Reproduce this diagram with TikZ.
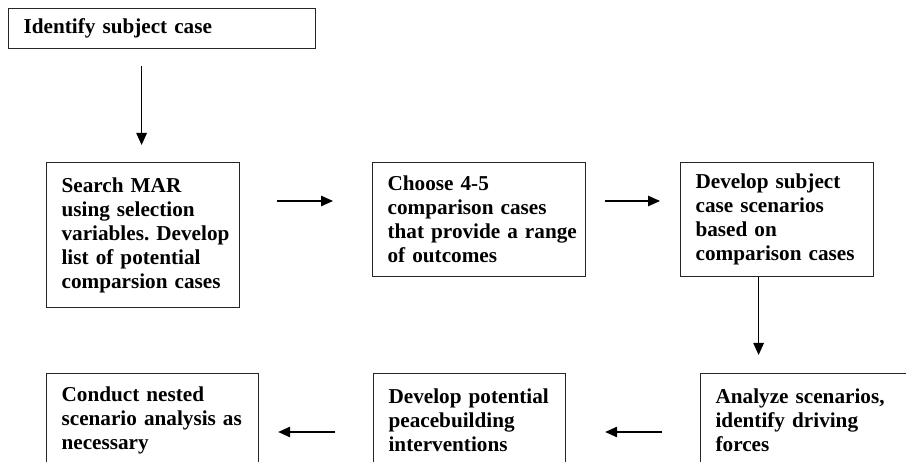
\documentclass[tikz,border=0pt]{standalone}
\usepackage{fontspec}
\setmainfont{Liberation Serif}
\usetikzlibrary{arrows.meta,calc}
\frenchspacing
\begin{document}
\begin{tikzpicture}[x=1pt,y=-1pt,
  stepbox/.style={draw=black!85, line width=1.2pt, anchor=north west, align=left,
    inner xsep=15pt, inner ysep=0pt,
    font=\bfseries\fontsize{21.2}{24}\selectfont},
  arr/.style={line width=1.2pt, -{Triangle[length=12pt,width=10.5pt]}}]
\useasboundingbox (0,0) rectangle (906,462);
\clip (0,0) rectangle (906,462);
\node[stepbox, text width=277pt, minimum height=40pt] (s1) at (8,8) {\mbox{Identify subject case}};
\node[stepbox, text width=163pt, minimum height=145pt] (s2) at (46,162)
  {\mbox{Search MAR}\\\mbox{using selection}\\\mbox{variables. Develop}\\\mbox{list of potential}\\\mbox{comparsion cases}};
\node[stepbox, text width=183pt, minimum height=114pt] (s3) at (372,162)
  {\mbox{Choose 4-5}\\\mbox{comparison cases}\\\mbox{that provide a range}\\\mbox{of outcomes}};
\node[stepbox, text width=163pt, minimum height=114pt] (s4) at (680,162)
  {\mbox{Develop subject}\\\mbox{case scenarios}\\\mbox{based on}\\\mbox{comparison cases}};
\node[stepbox, text width=182pt, minimum height=94pt] (s5) at (46,373)
  {\mbox{Conduct nested}\\\mbox{scenario analysis as}\\\mbox{necessary}};
\node[stepbox, text width=162pt, minimum height=94pt] (s6) at (373,373)
  {\mbox{Develop potential}\\\mbox{peacebuilding}\\\mbox{interventions}};
\node[stepbox, text width=180pt, minimum height=94pt] (s7) at (700,373)
  {\mbox{Analyze scenarios,}\\\mbox{identify driving}\\\mbox{forces}};
\draw[arr] ($(s2.north |- s1.south)+(-1.5,17)$) -- ($(s2.north)+(-1.5,-17)$);
\draw[arr] ($(s2.north east)+(37,39)$) -- ($(s3.north west)+(-39,39)$);
\draw[arr] ($(s3.north east)+(19,39)$) -- ($(s4.north west)+(-20,39)$);
\draw[arr] ($(s4.south)+(-18.5,0)$) -- ($(s4.south |- s7.north)+(-18.5,-18)$);
\draw[arr] ($(s7.north west)+(-38,59)$) -- ($(s6.north east)+(39,59)$);
\draw[arr] ($(s6.north west)+(-38,59)$) -- ($(s5.north east)+(19,59)$);
\end{tikzpicture}
\end{document}
